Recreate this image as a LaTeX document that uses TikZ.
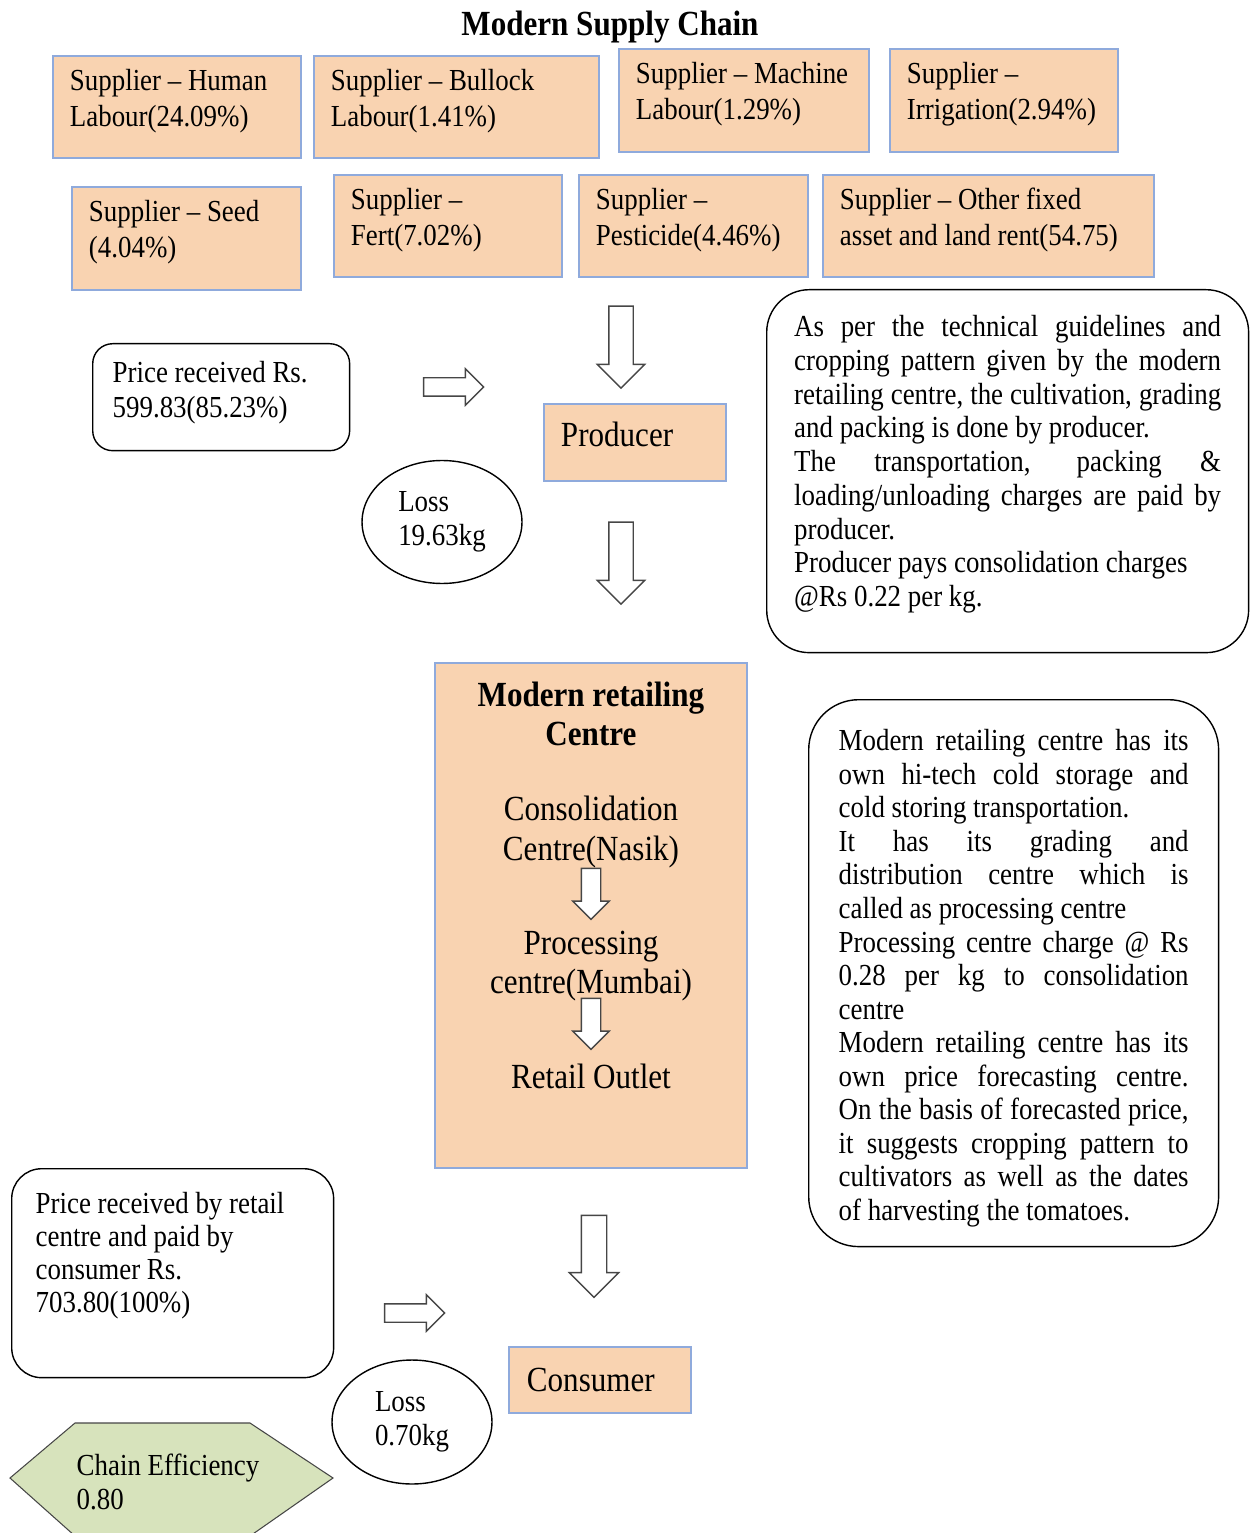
\documentclass[tikz,border=0pt]{standalone}
\usepackage{fontspec}
\setmainfont[FakeStretch=0.88]{Liberation Serif}
\usepackage{tikz}
\usetikzlibrary{shapes, shapes.arrows}

\definecolor{peach}{RGB}{249,211,177}
\definecolor{edgeblue}{RGB}{143,170,220}
\definecolor{sage}{RGB}{215,227,188}
\definecolor{arrgray}{RGB}{70,70,70}

\newcommand{\notefont}{\fontsize{17.4}{19.3}\selectfont}
\newcommand{\stagefont}{\fontsize{20.1}{22.6}\selectfont}
\newcommand{\jl}[1]{\makebox[\linewidth][s]{#1}}

\begin{document}
\begin{tikzpicture}
  [
    x = 0.02cm, y = -0.02cm,  % one unit = one pixel of the sketch
    every node/.style = {inner sep=0pt, font=\notefont},
    supplier/.style 2 args = {draw=edgeblue, line width=1.1pt, fill=peach,
      anchor=north west, align=flush left, inner xsep=0.34cm,
      font=\fontsize{17.4}{20.4}\selectfont,
      text width=#1, text height=0.7cm, text depth=#2},
    stage/.style n args = {3}{draw=edgeblue, line width=1.1pt, fill=peach,
      anchor=north west, align=flush left, inner xsep=0.34cm, font=\stagefont,
      text width=#1, text height=#2, text depth=#3},
    note/.style = {draw, line width=0.8pt, anchor=north west, align=flush left},
    loss/.style = {draw, ellipse, line width=0.8pt, align=flush left,
      minimum width=3.2cm, minimum height=2.46cm},
    downarrow/.style = {single arrow, draw=arrgray, fill=white, line width=0.8pt,
      shape border rotate=270, minimum height=1.64cm, minimum width=0.92cm,
      inner sep=0.23cm, single arrow head extend=0.23cm},
    rightarrow/.style = {single arrow, draw=arrgray, fill=white, line width=0.8pt,
      minimum height=1.2cm, minimum width=0.7cm, inner sep=0.17cm,
      single arrow head extend=0.18cm},
    innerarrow/.style = {downarrow, minimum height=1.02cm, minimum width=0.7cm,
      inner sep=0.18cm, single arrow head extend=0.17cm}
  ]
  \useasboundingbox (0,0) rectangle (1250,1533);

  \node[font=\stagefont\bfseries] (title) at (610,27) {Modern Supply Chain};

  % suppliers
  \node[supplier={4.28cm}{1.34cm}] (hum) at (52,55) {Supplier – Human\\Labour(24.09\%)};
  \node[supplier={5.02cm}{1.34cm}] (bul) at (313,55) {Supplier – Bullock\\Labour(1.41\%)};
  \node[supplier={4.32cm}{1.36cm}] (mac) at (618,48) {Supplier – Machine\\Labour(1.29\%)};
  \node[supplier={3.88cm}{1.36cm}] (irr) at (889,48) {Supplier –\\Irrigation(2.94\%)};
  \node[supplier={3.90cm}{1.36cm}] (seed) at (71,186) {Supplier – Seed\\(4.04\%)};
  \node[supplier={3.88cm}{1.34cm}] (fert) at (333,174) {Supplier –\\Fert(7.02\%)};
  \node[supplier={3.90cm}{1.34cm}] (pest) at (578,174) {Supplier –\\Pesticide(4.46\%)};
  \node[supplier={5.94cm}{1.34cm}] (oth) at (822,174) {Supplier – Other fixed\\asset and land rent(54.75)};

  % producer stage
  \node[downarrow] (d1) at (621,341) {};
  \node[stage={2.96cm}{0.86cm}{0.68cm}] (prod) at (543,403) {Producer};
  \node[note, rounded corners=0.4cm, inner xsep=0.4cm, text width=4.34cm,
    text height=0.78cm, text depth=1.36cm, font=\fontsize{17.4}{19.9}\selectfont]
    (price1) at (92,343) {Price received Rs.\\599.83(85.23\%)};
  \node[rightarrow] (r1) at (449,387) {};
  \node[loss] (loss1) at (442,522) {Loss\\19.63kg};
  \node[downarrow] (d2) at (621,557) {};
  \node[note, rounded corners=0.85cm, inner xsep=0.55cm, text width=8.54cm,
    text height=0.94cm, text depth=6.32cm, font=\fontsize{17.4}{19.2}\selectfont]
    (info1) at (766,289) {%
    \jl{As per the technical guidelines and}\\
    \jl{cropping pattern given by the modern}\\
    \jl{retailing centre, the cultivation, grading}\\
    and packing is done by producer.\\
    \jl{The transportation, packing \&}\\
    \jl{loading/unloading charges are paid by}\\
    producer.\\
    Producer pays consolidation charges\\
    @Rs 0.22 per kg.};

  % modern retailing centre
  \node[stage={5.56cm}{0.88cm}{9.22cm}, align=flush center,
    font=\fontsize{20.1}{22.2}\selectfont\bfseries]
    (mrc) at (434,662) {Modern retailing\\Centre};
  \node[font=\stagefont, align=flush center] (consol) at (591,832) {Consolidation\\Centre(Nasik)};
  \node[innerarrow] (c1) at (591,889) {};
  \node[font=\stagefont, align=flush center] (proc) at (591,966) {Processing\\centre(Mumbai)};
  \node[innerarrow] (c2) at (591,1019) {};
  \node[font=\stagefont] (outlet) at (591,1076) {Retail Outlet};
  \node[note, rounded corners=1cm, inner xsep=0.6cm, text width=7.0cm,
    text height=1.02cm, text depth=9.92cm, font=\fontsize{17.4}{19.1}\selectfont]
    (info2) at (808,699) {%
    \jl{Modern retailing centre has its}\\
    \jl{own hi-tech cold storage and}\\
    cold storing transportation.\\
    \jl{It has its grading and}\\
    \jl{distribution centre which is}\\
    called as processing centre\\
    \jl{Processing centre charge @ Rs}\\
    \jl{0.28 per kg to consolidation}\\
    centre\\
    \jl{Modern retailing centre has its}\\
    \jl{own price forecasting centre.}\\
    \jl{On the basis of forecasted price,}\\
    \jl{it suggests cropping pattern to}\\
    \jl{cultivators as well as the dates}\\
    of harvesting the tomatoes.};

  % consumer stage
  \node[downarrow, minimum width=0.96cm, inner sep=0.24cm,
    single arrow head extend=0.24cm] (d3) at (594,1250) {};
  \node[note, rounded corners=0.6cm, inner xsep=0.48cm, text width=5.48cm,
    text height=0.9cm, text depth=3.28cm, font=\fontsize{17.4}{18.8}\selectfont]
    (price2) at (11,1168) {Price received by retail\\centre and paid by\\consumer Rs.\\703.80(100\%)};
  \node[rightarrow] (r2) at (410,1313) {};
  \node[stage={2.92cm}{0.9cm}{0.42cm}, inner xsep=0.36cm] (consumer) at (508,1346) {Consumer};
  \node[loss, minimum height=2.48cm] (loss2) at (412,1422) {Loss\\0.70kg};

  % chain efficiency
  \begin{scope}
    \clip (0,0) rectangle (1250,1533);
    \draw[fill=sage, draw=arrgray, line width=0.6pt]
      (10,1478) -- (75,1423) -- (250,1423) -- (333,1478) -- (250,1536) -- (75,1536) -- cycle;
  \end{scope}
  \node[align=flush left] (eff) at (168,1482) {Chain Efficiency\\0.80};
\end{tikzpicture}
\end{document}
